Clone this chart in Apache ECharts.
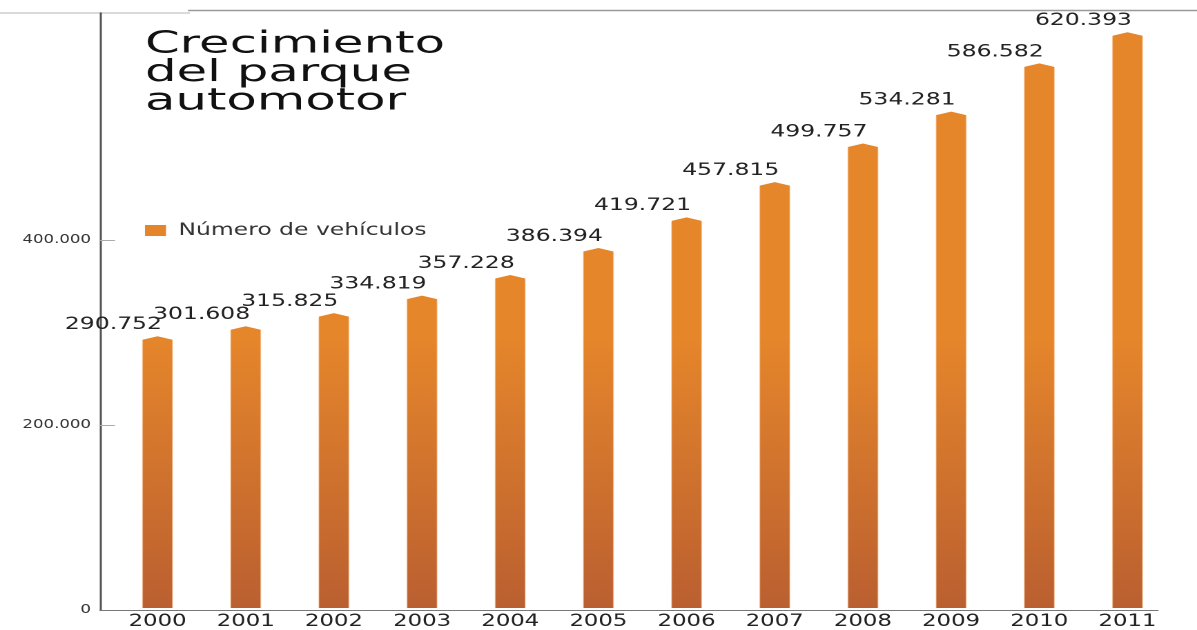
<!DOCTYPE html>
<html>
<head>
<meta charset="utf-8">
<script src="https://cdn.jsdelivr.net/npm/echarts@6/dist/echarts.min.js"></script>
<style>
  html, body { margin: 0; padding: 0; background: #fff; }
  #wrap { width: 1197px; height: 630px; overflow: hidden; position: relative; }
  /* the chart is laid out on a narrower canvas and widened horizontally */
  #chart { width: 867px; height: 630px; transform-origin: 0 0; }
</style>
</head>
<body>
<div id="wrap"><div id="chart"></div></div>
<script>
// --- data ---
const years = ['2000', '2001', '2002', '2003', '2004', '2005', '2006', '2007', '2008', '2009', '2010', '2011'];
const vehicles = [290752, 301608, 315825, 334819, 357228, 386394, 419721, 457815, 499757, 534281, 586582, 620393];
const yTickValues = [0, 200000, 400000];
const titleLines = ['Crecimiento', 'del parque', 'automotor'];
const seriesName = 'Número de vehículos';

// --- horizontal widening of the whole drawing ---
const CANVAS_W = 867;
const S = 1197 / CANVAS_W;
document.getElementById('chart').style.transform = 'scaleX(' + S + ')';
const X = px => px / S;   // page px -> canvas px (horizontal)

const FONT = '"DejaVu Sans", sans-serif';
const fmt = v => String(v).replace(/\B(?=(\d{3})+(?!\d))/g, '.');

const chart = echarts.init(document.getElementById('chart'), null, {
  width: CANVAS_W, height: 630, devicePixelRatio: 2
});

const barFill = new echarts.graphic.LinearGradient(0, 340, 0, 610, [
  { offset: 0, color: '#E5862B' },
  { offset: 1, color: '#BA5F31' }
], true);

function renderBar(params, api) {
  const i = api.value(0);
  const v = api.value(1);
  const top = api.coord([i, v]);
  const base = api.coord([i, 0]);
  const band = api.size([1, 0])[0];
  const half = X(15);
  const xc = top[0], x0 = xc - half, x1 = xc + half;
  const yv = top[1], yb = base[1];
  const edge = { stroke: 'rgba(250,190,140,0.55)', lineWidth: X(1) };
  return {
    type: 'group',
    children: [
      {
        type: 'polygon',
        shape: { points: [[x0, yb], [x0, yv], [xc, yv - 3.5], [x1, yv], [x1, yb]] },
        style: { fill: barFill }
      },
      { type: 'line', shape: { x1: x0, y1: yv + 1, x2: x0, y2: yb }, style: edge },
      { type: 'line', shape: { x1: x1, y1: yv + 1, x2: x1, y2: yb }, style: edge },
      {
        type: 'text',
        x: xc - band / 2,
        y: yv - 15,
        style: {
          text: fmt(v),
          font: '17px ' + FONT,
          fill: '#222',
          align: 'center',
          verticalAlign: 'middle'
        }
      }
    ]
  };
}

const option = {
  animation: false,
  backgroundColor: '#fff',
  textStyle: { fontFamily: FONT },
  legend: {
    left: X(145),
    top: 222,
    padding: 0,
    itemWidth: X(21),
    itemHeight: 11,
    textStyle: { fontSize: 17, color: '#333', fontFamily: FONT, padding: [0, 0, 0, 4] },
    data: [{ name: seriesName, icon: 'rect', itemStyle: { color: '#E5852A' } }]
  },
  grid: [
    // frame with the axis lines and value ticks
    { left: X(100), right: CANVAS_W - X(1158), top: 13, bottom: 20 },
    // bars and year labels
    { left: X(157.5 - 44.09), right: CANVAS_W - X(1127.5 + 44.09), top: 13, bottom: 20 }
  ],
  xAxis: [
    {
      gridIndex: 0, type: 'category', data: years,
      axisLine: { show: true, lineStyle: { color: '#777', width: 1 } },
      axisTick: { show: false }, axisLabel: { show: false }
    },
    {
      gridIndex: 1, type: 'category', data: years,
      axisLine: { show: false }, axisTick: { show: false },
      axisLabel: { fontSize: 16.5, color: '#222', fontFamily: FONT, margin: 5 }
    }
  ],
  yAxis: [
    {
      gridIndex: 0, type: 'value', min: 0, max: 645000,
      axisLine: { show: true, lineStyle: { color: '#555', width: 1.5 } },
      axisTick: { show: true, inside: true, length: X(15), customValues: [200000, 400000],
                  lineStyle: { color: '#aaa', width: 1 } },
      axisLabel: { customValues: yTickValues, formatter: v => fmt(v), fontSize: 12,
                   color: '#333', fontFamily: FONT, margin: X(9) },
      splitLine: { show: false }
    },
    {
      gridIndex: 1, type: 'value', min: 0, max: 645000, show: false
    }
  ],
  graphic: [
    { type: 'line', shape: { x1: 0, y1: 13, x2: X(190), y2: 13 },
      style: { stroke: '#c4c4c4', lineWidth: 1.2 } },
    { type: 'line', shape: { x1: X(188), y1: 10.5, x2: CANVAS_W, y2: 10.5 },
      style: { stroke: '#9a9a9a', lineWidth: 1.5 } }
  ].concat(titleLines.map((t, k) => ({
    type: 'text',
    x: X(145),
    y: 44.5 + k * 28.5,
    scaleX: 1.2,
    style: { text: t, font: '30px ' + FONT, fill: '#111', align: 'left', verticalAlign: 'middle' }
  }))),
  series: [
    {
      name: seriesName,
      type: 'custom',
      xAxisIndex: 1,
      yAxisIndex: 1,
      itemStyle: { color: '#E5852A' },
      encode: { x: 0, y: 1 },
      renderItem: renderBar,
      data: vehicles.map((v, i) => [i, v])
    }
  ]
};

chart.setOption(option);
</script>
</body>
</html>
